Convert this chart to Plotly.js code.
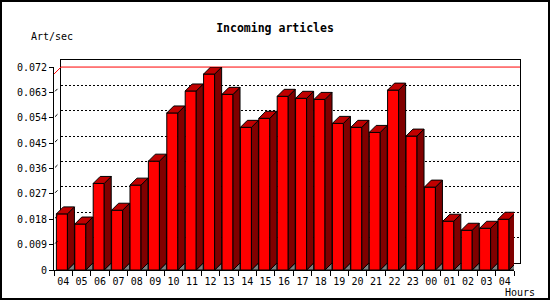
<!DOCTYPE html>
<html>
<head>
<meta charset="utf-8">
<script src="https://cdn.plot.ly/plotly-3.0.1.min.js"></script>
<style>html,body{margin:0;padding:0;background:#fff}#chart{width:550px;height:300px}</style>
</head>
<body>
<div id="chart"></div>
<script>
// ---- data ----
const hours = ['04','05','06','07','08','09','10','11','12','13','14','15','16','17','18','19','20','21','22','23','00','01','02','03','04'];
const artPerSec = [0.0199,0.0163,0.0307,0.0212,0.0301,0.0386,0.0557,0.0635,0.0695,0.0623,0.0506,0.0538,0.0616,0.0609,0.0605,0.0520,0.0506,0.0488,0.0638,0.0475,0.0294,0.0173,0.0141,0.0148,0.0180];
const yTickVals = [0,0.009,0.018,0.027,0.036,0.045,0.054,0.063,0.072];
const yTickText = ['0','0.009','0.018','0.027','0.036','0.045','0.054','0.063','0.072'];

// ---- geometry (3D look) ----
const W = 550, H = 300;
const YMAX = 0.072;
const SLOT_PX = 460 / hours.length;       // px per category
const DEPTH_PX = 7;
const DX = DEPTH_PX / SLOT_PX;            // depth in x units
const DY = YMAX * DEPTH_PX / 203;         // depth in y units
const FRONT_OFF = -0.37, FRONT_W = 0.6;

const idx = hours.map((_, i) => i);
const mono = 'DejaVu Sans Mono, Liberation Mono, monospace';

const sideX = [], sideY = [], topX = [], topY = [], triX = [], triY = [];
artPerSec.forEach((v, i) => {
  const xl = i + FRONT_OFF, xr = xl + FRONT_W;
  sideX.push(xr, xr + DX, xr + DX, xr, xr, null);
  sideY.push(0, DY, v + DY, v, 0, null);
  topX.push(xl, xl + DX, xr + DX, xr, xl, null);
  topY.push(v, v + DY, v + DY, v, v, null);
  triX.push(xr, xr + DX, xr + DX, xr, null);
  triY.push(0, DY, 0, 0, null);
});

// frame lines of the left wall and floor
const frameX = [-0.5, -0.5 + DX, null, hours.length - 0.5, hours.length - 0.5 + DX, null];
const frameY = [YMAX, YMAX + DY, null, 0, DY, null];
yTickVals.slice(1, -1).forEach(v => {
  frameX.push(-0.5 + DX * 0.15, -0.5 + DX * 0.5, null);
  frameY.push(v + DY * 0.15, v + DY * 0.5, null);
});
const maxVal = Math.max(...artPerSec);

const common = {hoverinfo: 'skip', showlegend: false, cliponaxis: false};
const traces = [
  // max line on back wall
  Object.assign({type: 'scatter', mode: 'lines', x: [0, 1], y: [maxVal, maxVal],
    line: {color: '#ff0000', width: 1}, xaxis: 'x', yaxis: 'y'}, common),
  // front faces
  {type: 'bar', x: idx, y: artPerSec, width: FRONT_W, offset: FRONT_OFF,
    marker: {color: '#ff0000', line: {color: '#000', width: 1}},
    xaxis: 'x2', yaxis: 'y2', hoverinfo: 'skip', showlegend: false, cliponaxis: false},
  Object.assign({type: 'scatter', mode: 'lines', x: triX, y: triY, fill: 'toself',
    fillcolor: '#808080', line: {color: '#000', width: 1}, xaxis: 'x2', yaxis: 'y2'}, common),
  Object.assign({type: 'scatter', mode: 'lines', x: sideX, y: sideY, fill: 'toself',
    fillcolor: '#800000', line: {color: '#000', width: 1}, xaxis: 'x2', yaxis: 'y2'}, common),
  Object.assign({type: 'scatter', mode: 'lines', x: topX, y: topY, fill: 'toself',
    fillcolor: '#c00000', line: {color: '#000', width: 1}, xaxis: 'x2', yaxis: 'y2'}, common),
  Object.assign({type: 'scatter', mode: 'lines', x: frameX, y: frameY,
    line: {color: '#000', width: 1}, xaxis: 'x2', yaxis: 'y2'}, common),
  Object.assign({type: 'scatter', mode: 'lines', x: [-0.5, -0.5 + DX], y: [maxVal, maxVal + DY],
    line: {color: '#ff0000', width: 1}, xaxis: 'x2', yaxis: 'y2'}, common),
  Object.assign({type: 'scatter', mode: 'lines', x: [], y: [], xaxis: 'x3', yaxis: 'y2'}, common)
];

const boundaries = idx.map(i => i - 0.5).concat([hours.length - 0.5]);

const layout = {
  width: W, height: H,
  margin: {l: 0, r: 0, t: 0, b: 0},
  paper_bgcolor: '#fff', plot_bgcolor: 'rgba(0,0,0,0)',
  showlegend: false,
  font: {family: mono, size: 10, color: '#000'},
  title: {text: 'Incoming articles', x: 0.5, xanchor: 'center', y: 1 - 27.5 / H, yanchor: 'middle',
    font: {family: mono, size: 11.5, color: '#000', weight: 'bold'}},
  xaxis: {domain: [61 / W, 520 / W], range: [0, 1], anchor: 'y', showgrid: false, zeroline: false,
    showticklabels: false, ticks: '', showline: true, mirror: true, linecolor: '#000', linewidth: 1, fixedrange: true},
  yaxis: {domain: [37 / H, 240 / H], range: [0, YMAX], anchor: 'x', tickmode: 'array', tickvals: yTickVals,
    showgrid: true, gridcolor: '#000', gridwidth: 1, griddash: '2px,2px', showticklabels: false, ticks: '',
    showline: true, mirror: true, linecolor: '#000', linewidth: 1, zeroline: false, fixedrange: true},
  xaxis2: {domain: [54 / W, 514 / W], range: [-0.5, hours.length - 0.5], anchor: 'y2',
    tickmode: 'array', tickvals: idx, ticktext: hours, ticks: 'outside', ticklen: 2, tickcolor: 'rgba(0,0,0,0)',
    showline: true, linecolor: '#000', linewidth: 1, showgrid: false, zeroline: false,
    tickfont: {family: mono, size: 10, color: '#000'}, fixedrange: true},
  xaxis3: {overlaying: 'x2', anchor: 'y2', range: [-0.5, hours.length - 0.5], tickmode: 'array',
    tickvals: boundaries, ticks: 'outside', ticklen: 5, tickcolor: '#000', tickwidth: 1,
    showticklabels: false, showgrid: false, showline: false, zeroline: false, fixedrange: true},
  yaxis2: {domain: [30 / H, 233 / H], range: [0, YMAX], anchor: 'x2', tickmode: 'array',
    tickvals: yTickVals, ticktext: yTickText, ticks: 'outside', ticklen: 4, tickcolor: '#000',
    showline: true, linecolor: '#000', linewidth: 1, showgrid: false, zeroline: false,
    tickfont: {family: mono, size: 10, color: '#000'}, fixedrange: true},
  annotations: [
    {text: 'Art/sec', xref: 'paper', yref: 'paper', x: 29 / W, y: 1 - 37 / H, xanchor: 'left', yanchor: 'middle',
      showarrow: false, font: {family: mono, size: 10, color: '#000'}},
    {text: 'Hours', xref: 'paper', yref: 'paper', x: 503 / W, y: 1 - 292 / H, xanchor: 'left', yanchor: 'middle',
      showarrow: false, font: {family: mono, size: 10, color: '#000'}}
  ],
  shapes: [
    {type: 'rect', xref: 'paper', yref: 'paper', x0: 1 / W, x1: 549 / W, y0: 1 / H, y1: 299 / H,
      line: {color: '#000', width: 2}, fillcolor: 'rgba(0,0,0,0)'}
  ]
};

Plotly.newPlot('chart', traces, layout, {displayModeBar: false, staticPlot: true});
</script>
</body>
</html>
